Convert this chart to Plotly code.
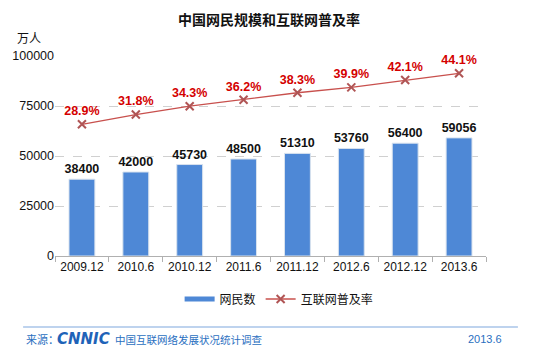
import plotly.graph_objects as go

periods = ["2009.12", "2010.6", "2010.12", "2011.6", "2011.12", "2012.6", "2012.12", "2013.6"]
netizens = [38400, 42000, 45730, 48500, 51310, 53760, 56400, 59056]
penetration = [28.9, 31.8, 34.3, 36.2, 38.3, 39.9, 42.1, 44.1]
y_ticks = [0, 25000, 50000, 75000, 100000]

FONT = "Liberation Sans, Arial, Noto Sans CJK SC, sans-serif"
CJK = "Noto Sans CJK SC, Liberation Sans, sans-serif"
BLUE_TXT = "#2a6fbf"
BAR_COLOR = "#4e88d6"

fig = go.Figure()
fig.add_trace(go.Bar(
    x=periods, y=netizens, name="网民数", showlegend=False,
    marker=dict(color=BAR_COLOR, line=dict(color="#d8e2ee", width=1)),
    text=[str(v) for v in netizens], textposition="outside", constraintext="none",
    textfont=dict(family=FONT, size=12.5, color="#111111", weight="bold"),
    cliponaxis=False,
))
# legend-only entry giving the flat bar swatch of the original
fig.add_trace(go.Scatter(
    x=[None], y=[None], name="网民数", mode="lines",
    line=dict(color=BAR_COLOR, width=5),
))
fig.add_trace(go.Scatter(
    x=periods, y=penetration, name="互联网普及率", yaxis="y2",
    mode="lines+markers+text",
    line=dict(color="#c8504d", width=1.3),
    marker=dict(symbol="x-thin", size=8, line=dict(color="#b05555", width=2), color="#b05555"),
    text=[f"{v}%" for v in penetration], textposition="top center",
    textfont=dict(family=FONT, size=12.5, color="#d40000", weight="bold"),
    cliponaxis=False,
))

fig.update_layout(
    width=535, height=353,
    margin=dict(l=52, r=49, t=56, b=97),
    paper_bgcolor="white", plot_bgcolor="white",
    font=dict(family=FONT, size=12, color="#111111"),
    bargap=0.52,
    showlegend=True,
    legend=dict(orientation="h", x=0.52, xanchor="center", y=-0.215, yanchor="middle",
                font=dict(family=CJK, size=12, color="#111111"),
                itemwidth=30, traceorder="normal"),
    xaxis=dict(type="category", showgrid=False, showline=True, linecolor="#b0b0b0", linewidth=1,
               ticks="outside", tickson="boundaries", ticklen=5, tickcolor="#b0b0b0",
               tickfont=dict(family=FONT, size=12, color="#111111")),
    yaxis=dict(range=[0, 100000], tickvals=y_ticks, ticktext=[str(v) for v in y_ticks],
               showgrid=True, gridcolor="#d0d0d0",
               griddash="dash", gridwidth=1, zeroline=False, showline=False, ticks="",
               tickfont=dict(family=FONT, size=12.5, color="#111111")),
    yaxis2=dict(overlaying="y", side="right", range=[-10.35, 49.26], visible=False, showgrid=False),
    annotations=[
        dict(text="<b>中国网民规模和互联网普及率</b>", xref="paper", yref="paper", x=0.497, y=1.185,
             xanchor="center", yanchor="middle", showarrow=False, font=dict(family=CJK, size=14, color="#111111")),
        dict(text="万人", xref="paper", yref="paper", x=-0.06, y=1.095, xanchor="center", yanchor="middle",
             showarrow=False, font=dict(family=CJK, size=12, color="#111111")),
        dict(text="来源：", xref="paper", yref="paper", x=-0.072, y=-0.415, xanchor="left", yanchor="middle",
             showarrow=False, font=dict(family=CJK, size=11, color=BLUE_TXT)),
        dict(text="<b><i>CNNIC</i></b>", xref="paper", yref="paper", x=0.0, y=-0.413, xanchor="left", yanchor="middle",
             showarrow=False, font=dict(family="DejaVu Sans", size=15, color="#1f63b8")),
        dict(text="中国互联网络发展状况统计调查", xref="paper", yref="paper", x=0.135, y=-0.415, xanchor="left",
             yanchor="middle", showarrow=False, font=dict(family=CJK, size=10.5, color=BLUE_TXT)),
        dict(text="2013.6", xref="paper", yref="paper", x=1.042, y=-0.415, xanchor="right", yanchor="middle",
             showarrow=False, font=dict(family=FONT, size=11, color=BLUE_TXT)),
    ],
    shapes=[
        dict(type="line", xref="paper", yref="paper", x0=-0.074, x1=1.074, y0=-0.355, y1=-0.355,
             line=dict(color="#a8c4e8", width=1.5)),
    ],
)

fig.write_html("out.html")
